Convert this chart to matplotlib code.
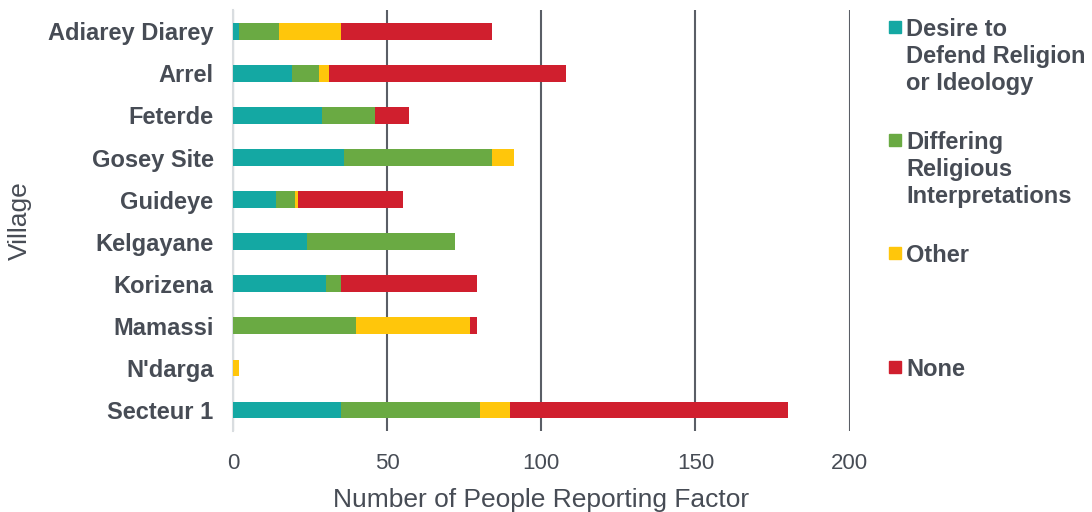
import matplotlib.pyplot as plt
from matplotlib.patches import Rectangle
import numpy as np

plt.rcParams['font.family'] = ['Liberation Sans', 'DejaVu Sans']

villages = ["Adiarey Diarey", "Arrel", "Feterde", "Gosey Site", "Guideye",
            "Kelgayane", "Korizena", "Mamassi", "N'darga", "Secteur 1"]

# counts per factor, same order as villages
defend = [2, 19, 29, 36, 14, 24, 30, 0, 0, 35]
differing = [13, 9, 17, 48, 6, 48, 5, 40, 0, 45]
other = [20, 3, 0, 7, 1, 0, 0, 37, 2, 10]
none = [49, 77, 11, 0, 34, 0, 44, 2, 0, 90]

series = ["Desire to\nDefend Religion\nor Ideology",
          "Differing\nReligious\nInterpretations",
          "Other", "None"]
colors = ["#14A8A3", "#6AAA43", "#FFC60B", "#D01F2E"]
text_color = "#474C55"

fig = plt.figure(figsize=(10.92, 5.12), dpi=100)
ax = fig.add_axes([0.2134, 0.158, 0.5646, 0.822])

y = np.arange(len(villages))
left = np.zeros(len(villages))
for vals, c in zip([defend, differing, other, none], colors):
    ax.barh(y, vals, left=left, height=0.4, color=c, zorder=3)
    left += np.array(vals)

ax.set_ylim(len(villages) - 0.5, -0.5)
ax.set_xlim(0, 200)
ax.set_xticks([0, 50, 100, 150, 200])
ax.set_yticks(y)
ax.set_yticklabels(villages, fontsize=17, fontweight='bold', color=text_color)
ax.tick_params(axis='x', labelsize=16, colors=text_color, length=0, pad=16)
ax.tick_params(axis='y', length=0, pad=14)

ax.grid(axis='x', color='#5A5E66', linewidth=1.5, zorder=0)
for s in ['top', 'right', 'bottom']:
    ax.spines[s].set_visible(False)
ax.spines['left'].set_color('#D9DDE0')
ax.spines['left'].set_linewidth(1.5)

ax.set_xlabel("Number of People Reporting Factor", fontsize=19, color=text_color, labelpad=10)
ax.set_ylabel("Village", fontsize=19, color=text_color, labelpad=12)

# legend entries spaced evenly down the right side
legend_tops = [27, 140, 253, 367]
W, H = 1092, 512
for label, c, ty in zip(series, colors, legend_tops):
    fig.patches.append(Rectangle((889 / W, 1 - (ty + 6) / H), 12 / W, 12 / H,
                                 transform=fig.transFigure, color=c))
    fig.text(906 / W, 1 - (ty - 9.5) / H, label, fontsize=17, fontweight='bold',
             color=text_color, va='top', ha='left', linespacing=1.23)

fig.savefig("out.png", dpi=100)
